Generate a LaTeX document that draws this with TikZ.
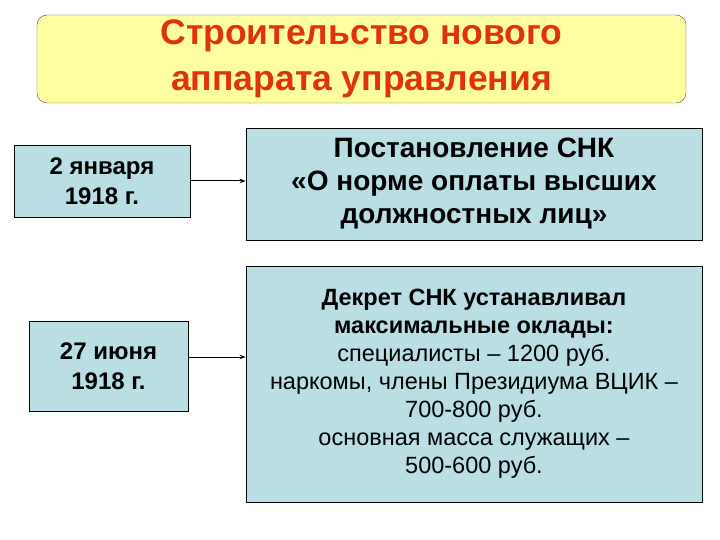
\documentclass[tikz,border=0pt]{standalone}
\usepackage{fontspec}
\setmainfont{Liberation Sans}
\usetikzlibrary{arrows.meta}
\definecolor{ttl}{RGB}{255,255,160}
\definecolor{ttxt}{RGB}{225,50,10}
\definecolor{bx}{RGB}{185,222,228}
\tikzset{box/.style={draw=black,fill=bx,line width=0.8pt,align=center,inner sep=0pt},
conn/.style={-{Stealth[length=6pt]},line width=1pt}}
\begin{document}
\begin{tikzpicture}[x=1pt,y=-1pt]
\useasboundingbox (0,0) rectangle (720,540);
\node[draw=black!70,fill=ttl,rounded corners=10pt,minimum width=649pt,minimum height=88pt,align=center,text=ttxt,font=\fontsize{35.5}{46}\selectfont\bfseries] (t) at (361.5,59) {Строительство нового\\аппарата управления};
\node[box,minimum width=176pt,minimum height=72pt,font=\fontsize{24}{30}\selectfont\bfseries] (d1) at (102,181) {2 января\\1918 г.};
\node[box,minimum width=456pt,minimum height=112pt,font=\fontsize{28}{33}\selectfont\bfseries] (b1) at (474,184) {Постановление СНК\\«О норме оплаты высших\\должностных лиц»};
\node[box,minimum width=159pt,minimum height=90pt,font=\fontsize{24}{30}\selectfont\bfseries] (d2) at (108.5,366) {27 июня\\1918 г.};
\node[box,minimum width=456pt,minimum height=236pt,font=\fontsize{23.5}{28}\selectfont] (b2) at (474,384) {\textbf{Декрет СНК устанавливал}\\\textbf{максимальные оклады:}\\специалисты – 1200 руб.\\наркомы, члены Президиума ВЦИК –\\700-800 руб.\\основная масса служащих –\\500-600 руб.};
\draw[conn] (d1.east) -- (d1.east -| b1.west);
\draw[conn] (d2.east |- 0,357) coordinate (a2) -- (a2 -| b2.west);
\end{tikzpicture}
\end{document}
